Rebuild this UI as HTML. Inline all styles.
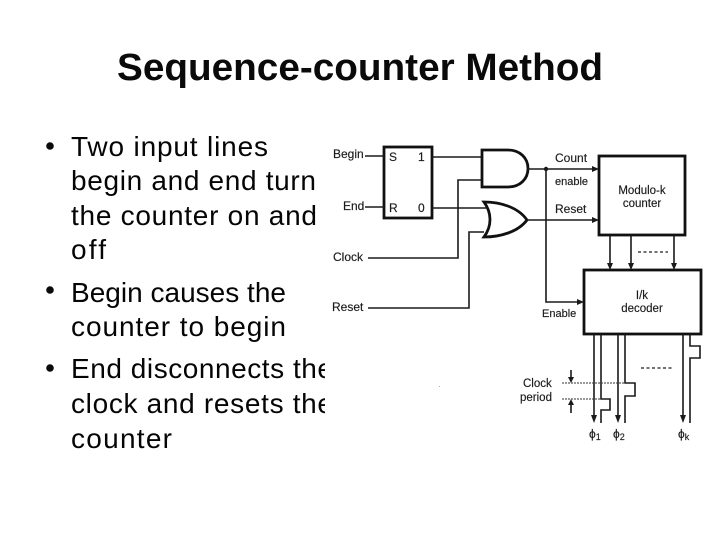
<!DOCTYPE html>
<html><head><meta charset="utf-8"><style>
html,body{margin:0;padding:0;background:#fff}
svg{display:block}
.b{font:28px "Liberation Sans",sans-serif;fill:#050505}
.l{font:11.500px "Liberation Sans",sans-serif;fill:#1a1a1a;stroke:#1a1a1a;stroke-width:.15}
.w{fill:none;stroke:#1a1a1a;stroke-width:1.6}
.h{fill:none;stroke:#111;stroke-width:2.8}
.a{fill:#1a1a1a;stroke:none}
.d{filter:blur(.3px)}
</style></head><body>
<svg width="720" height="540" viewBox="0 0 720 540" xmlns="http://www.w3.org/2000/svg">
<rect width="720" height="540" fill="#fff"/>
<text x="117" y="80" font-family="Liberation Sans, sans-serif" font-weight="700" font-size="38" fill="#0a0a0a" textLength="486" lengthAdjust="spacingAndGlyphs">Sequence-counter Method</text>
<g fill="#0a0a0a"><circle cx="50" cy="146" r="3.800"/><circle cx="50" cy="290" r="3.800"/><circle cx="50" cy="368" r="3.800"/></g>
<text class="b" x="71" y="156" textLength="197" lengthAdjust="spacing">Two input lines</text>
<text class="b" x="71" y="190" textLength="245" lengthAdjust="spacing">begin and end turn</text>
<text class="b" x="71" y="225" textLength="246" lengthAdjust="spacing">the counter on and</text>
<text class="b" x="71" y="259" textLength="35" lengthAdjust="spacing">off</text>
<text class="b" x="71" y="302" textLength="215" lengthAdjust="spacing">Begin causes the</text>
<text class="b" x="71" y="336" textLength="215" lengthAdjust="spacing">counter to begin</text>
<text class="b" x="71" y="378" textLength="262" lengthAdjust="spacing">End disconnects the</text>
<text class="b" x="71" y="413" textLength="262" lengthAdjust="spacing">clock and resets the</text>
<text class="b" x="71" y="448" textLength="101" lengthAdjust="spacing">counter</text>
<rect x="325" y="120" width="395" height="340" fill="#fff"/>

<g class="d">
<text class="l" x="333" y="158" style="font-size:12px">Begin</text>
<text class="l" x="343" y="210" style="font-size:12px">End</text>
<text class="l" x="333" y="261" style="font-size:12px">Clock</text>
<text class="l" x="332" y="311" style="font-size:12px">Reset</text>
<rect class="h" x="384" y="147" width="48" height="71"/>
<text class="l" x="389" y="161" style="font-size:12px">S</text>
<text class="l" x="418" y="161" style="font-size:12px">1</text>
<text class="l" x="389" y="212" style="font-size:12px">R</text>
<text class="l" x="418" y="212" style="font-size:12px">0</text>
<path class="w" d="M365 156H384M365 207H384M432 157H482M432 208H486M368 258H458V180H482M368 308H469V232H484"/>
<path class="h" d="M482 150H508C520 150 528 158 528 168.500C528 179 520 187 508 187H482Z"/>
<path class="h" d="M484 202C500 202 518 207 527 220C518 232 500 237 484 237C492 226 492 213 484 202Z"/>

<path class="w" d="M527 169H594M527 220H594M546 169V302H578"/>
<circle class="a" cx="546" cy="169" r="2.200"/>
<path class="a" d="M599 169l-7-3v6zM599 220l-7-3v6zM584 302l-7-3v6z"/>
<text class="l" x="555" y="162" style="font-size:12px">Count</text>
<text class="l" x="555" y="185" style="font-size:11px">enable</text>
<text class="l" x="555" y="213" style="font-size:12px">Reset</text>
<text class="l" x="542" y="317" style="font-size:11px">Enable</text>
<rect class="h" x="599" y="156" width="86" height="79"/>
<text class="l" x="642" y="194" text-anchor="middle">Modulo-k</text>
<text class="l" x="642" y="207" text-anchor="middle">counter</text>
<path class="w" d="M610 235V264M631 235V264M674 235V264"/>
<path class="a" d="M610 270l-3-7h6zM631 270l-3-7h6zM674 270l-3-7h6z"/>
<path d="M638 252H668" stroke="#1a1a1a" stroke-width="1.2" stroke-dasharray="3 2.500" fill="none"/>
<rect class="h" x="584" y="270" width="117" height="64"/>
<text class="l" x="642" y="299" text-anchor="middle">I/k</text>
<text class="l" x="642" y="312" text-anchor="middle">decoder</text>

<path class="w" d="M594 334V416M618 334V416M683 334V416"/>
<path class="a" d="M594 423l-3-8h6zM618 423l-3-8h6zM683 423l-3-8h6z"/>
<path class="w" d="M601 334V399H610V410H601V423M625 334V383H635V396H625V423M690 334V346H700V358H690V423"/>
<path d="M641 368H672" stroke="#1a1a1a" stroke-width="1.2" stroke-dasharray="3 2.500" fill="none"/>
<path d="M562 383H625M562 399H601" stroke="#333" stroke-width="0.9" stroke-dasharray="2 1" fill="none"/>
<path class="w" d="M571 370V378M571 404V413"/>
<path class="a" d="M571 383l-3-6h6zM571 399l-3 6h6z"/>
<text class="l" x="523" y="387">Clock</text>
<text class="l" x="520" y="401">period</text>
<text class="l" x="589" y="438" style="font-size:12px">ϕ<tspan style="font-size:9px" dy="2">1</tspan></text>
<text class="l" x="613" y="438" style="font-size:12px">ϕ<tspan style="font-size:9px" dy="2">2</tspan></text>
<text class="l" x="678" y="438" style="font-size:12px">ϕ<tspan style="font-size:9px" dy="2">k</tspan></text>
<rect x="439" y="386" width="1" height="1" fill="#aaa"/>
</g>
</svg>
</body></html>
